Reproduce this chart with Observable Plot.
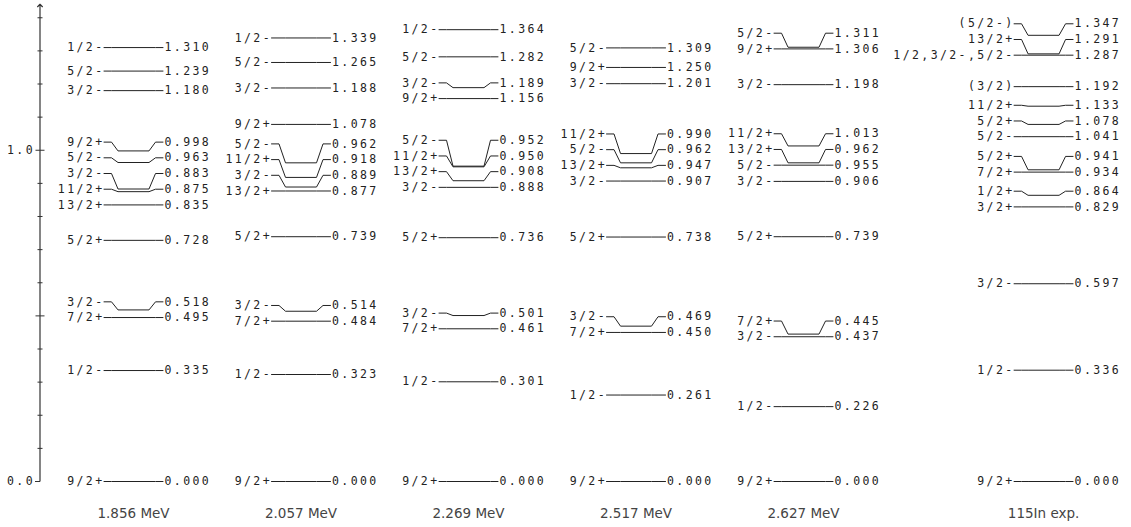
<!DOCTYPE html>
<html><head><meta charset="utf-8">
<script src="https://cdn.jsdelivr.net/npm/d3@7"></script>
<script src="https://cdn.jsdelivr.net/npm/@observablehq/plot@0.6"></script>
<style>html,body{margin:0;padding:0;background:#fff}svg{display:block}
text[aria-label="levlabel"], text[aria-label="axislabel"]{letter-spacing:2.4px}
</style>
</head><body><div id="chart"></div>
<script>
// ---- data ----
const columnTitles = ["1.856 MeV", "2.057 MeV", "2.269 MeV", "2.517 MeV", "2.627 MeV", "115In exp."];

const spins1856 = ["9/2+", "1/2-", "7/2+", "3/2-", "5/2+", "13/2+", "11/2+", "3/2-", "5/2-", "9/2+", "3/2-", "5/2-", "1/2-"];
const energies1856 = [0.000, 0.335, 0.495, 0.518, 0.728, 0.835, 0.875, 0.883, 0.963, 0.998, 1.180, 1.239, 1.310];

const spins2057 = ["9/2+", "1/2-", "7/2+", "3/2-", "5/2+", "13/2+", "3/2-", "11/2+", "5/2-", "9/2+", "3/2-", "5/2-", "1/2-"];
const energies2057 = [0.000, 0.323, 0.484, 0.514, 0.739, 0.877, 0.889, 0.918, 0.962, 1.078, 1.188, 1.265, 1.339];

const spins2269 = ["9/2+", "1/2-", "7/2+", "3/2-", "5/2+", "3/2-", "13/2+", "11/2+", "5/2-", "9/2+", "3/2-", "5/2-", "1/2-"];
const energies2269 = [0.000, 0.301, 0.461, 0.501, 0.736, 0.888, 0.908, 0.950, 0.952, 1.156, 1.189, 1.282, 1.364];

const spins2517 = ["9/2+", "1/2-", "7/2+", "3/2-", "5/2+", "3/2-", "13/2+", "5/2-", "11/2+", "3/2-", "9/2+", "5/2-"];
const energies2517 = [0.000, 0.261, 0.450, 0.469, 0.738, 0.907, 0.947, 0.962, 0.990, 1.201, 1.250, 1.309];

const spins2627 = ["9/2+", "1/2-", "3/2-", "7/2+", "5/2+", "3/2-", "5/2-", "13/2+", "11/2+", "3/2-", "9/2+", "5/2-"];
const energies2627 = [0.000, 0.226, 0.437, 0.445, 0.739, 0.906, 0.955, 0.962, 1.013, 1.198, 1.306, 1.311];

const spinsExp = ["9/2+", "1/2-", "3/2-", "3/2+", "1/2+", "7/2+", "5/2+", "5/2-", "5/2+", "11/2+", "(3/2)", "1/2,3/2-,5/2-", "13/2+", "(5/2-)"];
const energiesExp = [0.000, 0.336, 0.597, 0.829, 0.864, 0.934, 0.941, 1.041, 1.078, 1.133, 1.192, 1.287, 1.291, 1.347];

const yMinorTicks = [0.1, 0.2, 0.3, 0.4, 0.6, 0.7, 0.8, 0.9, 1.1, 1.2, 1.3, 1.4];
const yMajorTicks = [0.5, 1.0];
const yLabelTicks = [0.0, 1.0];

// ---- layout ----
const W = 1131, H = 527;
const colPos = [0, 1, 2, 3, 4, 5.433];          // column positions (x units)
const xDomain = [-0.794, 5.958];
const yDomain = [0, 1.437];
const yRange = [481, 5];
const pxX = W / (xDomain[1] - xDomain[0]);       // px per x unit
const pxY = (yRange[0] - yRange[1]) / (yDomain[1] - yDomain[0]);
const ux = px => px / pxX;
const labelGapPx = 15.7;
const axisX = colPos[0] + ux(39.5 - 133);

const columns = [
  [spins1856, energies1856], [spins2057, energies2057], [spins2269, energies2269],
  [spins2517, energies2517], [spins2627, energies2627], [spinsExp, energiesExp]
];

const levels = [];
columns.forEach(([spins, energies], c) => {
  const idx = d3.range(energies.length).sort((a, b) => energies[a] - energies[b]);
  let prev = -Infinity;
  idx.forEach(i => {
    const e = energies[i];
    const ly = Math.max(e, prev + labelGapPx / pxY);
    prev = ly;
    levels.push({col: c, x: colPos[c], e, ly, spin: spins[i], id: c + "-" + i});
  });
});

const pts = [];
levels.forEach(l => {
  const xs = [-29.5, -22, -15.5, 15.5, 22, 29.5];
  const ys = [l.ly, l.ly, l.e, l.e, l.ly, l.ly];
  xs.forEach((dx, k) => pts.push({id: l.id, x: l.x + ux(dx), y: ys[k]}));
});

const monoFont = "'DejaVu Sans Mono', monospace";

const chart = Plot.plot({
  width: W, height: H,
  marginTop: 0, marginBottom: 0, marginLeft: 0, marginRight: 0,
  x: {domain: xDomain, range: [0, W], axis: null},
  y: {domain: yDomain, range: yRange, axis: null},
  style: {background: "#fff"},
  marks: [
    // axis line with arrow
    Plot.link([0], {x1: axisX, x2: axisX, y1: 0, y2: yDomain[1], stroke: "#333", strokeWidth: 1.2, markerEnd: "arrow"}),
    Plot.link(yMinorTicks, {x1: axisX + ux(-2.5), x2: axisX + ux(2.5), y1: d => d, y2: d => d, stroke: "#333"}),
    Plot.link(yMajorTicks, {x1: axisX + ux(-4.5), x2: axisX + ux(4.5), y1: d => d, y2: d => d, stroke: "#333"}),
    Plot.link([0], {x1: axisX + ux(-5), x2: axisX, y1: d => d, y2: d => d, stroke: "#333"}),
    Plot.text(yLabelTicks, {ariaLabel: () => "axislabel", x: axisX, y: d => d, text: d => d.toFixed(1), dx: -5, textAnchor: "end", fontFamily: monoFont, fontSize: 11.5, fill: "#222"}),
    // level lines
    Plot.line(pts, {x: "x", y: "y", z: "id", stroke: "#222", strokeWidth: 1, curve: "linear"}),
    // labels
    Plot.text(levels, {ariaLabel: () => "levlabel", x: d => d.x + ux(-29), y: "ly", text: "spin", textAnchor: "end", fontFamily: monoFont, fontSize: 11.5, fill: "#222"}),
    Plot.text(levels, {ariaLabel: () => "levlabel", x: d => d.x + ux(31), y: "ly", text: d => d.e.toFixed(3), textAnchor: "start", fontFamily: monoFont, fontSize: 11.5, fill: "#222"}),
    // column titles
    Plot.text(columnTitles, {x: (d, i) => colPos[i], frameAnchor: "bottom", dy: -14, lineAnchor: "middle", text: d => d, fontFamily: "'DejaVu Sans', sans-serif", fontSize: 13.5, fill: "#444"})
  ]
});
document.getElementById("chart").appendChild(chart);
// fallback: ensure letter spacing on monospace labels
d3.select(chart).selectAll("text").filter(function() {
  const f = this.getAttribute("font-family") || (this.parentNode && this.parentNode.getAttribute && this.parentNode.getAttribute("font-family")) || "";
  return f.includes("Mono");
}).style("letter-spacing", "2.4px");
</script>
</body></html>
